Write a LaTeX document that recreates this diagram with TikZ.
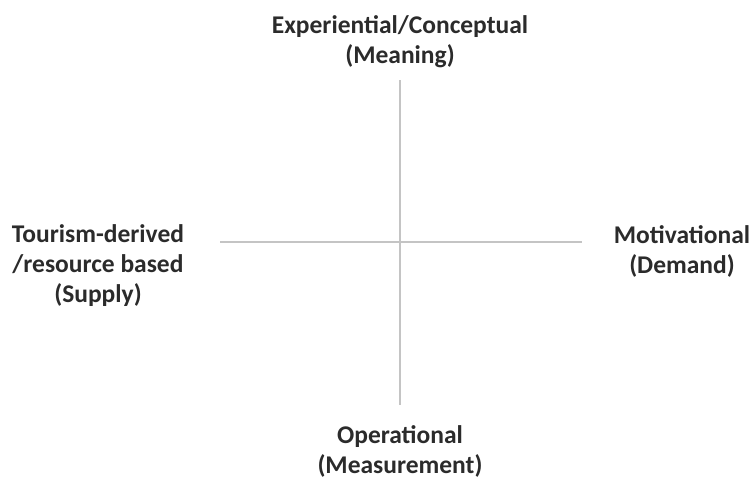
\documentclass[tikz,border=0pt]{standalone}
\usepackage{fontspec}
\setmainfont{Carlito}
\definecolor{txt}{HTML}{2B2B2B}
\definecolor{axis}{HTML}{C4C4C4}
\begin{document}
\begin{tikzpicture}[x=1pt,y=-1pt,
  lbl/.style={align=center,text=txt,font=\fontsize{25.5}{30}\selectfont\bfseries,inner sep=0pt},
  axisline/.style={draw=axis,line width=2pt}]
\useasboundingbox (0,0) rectangle (752,479);
\node[lbl] (top) at (400,42) {Experiential/Conceptual\\(Meaning)};
\node[lbl] (left) at (98,266) {Tourism-derived\\/resource based\\(Supply)};
\node[lbl] (right) at (682,251) {Motivational\\(Demand)};
\node[lbl] (bottom) at (400,451) {Operational\\(Measurement)};
\coordinate (vt) at (400,80);
\coordinate (vb) at (400,405);
\coordinate (hl) at (220,242);
\coordinate (hr) at (582,242);
\draw[axisline] (vt) -- (vb);
\draw[axisline] (hl) -- (hr);
\end{tikzpicture}
\end{document}
